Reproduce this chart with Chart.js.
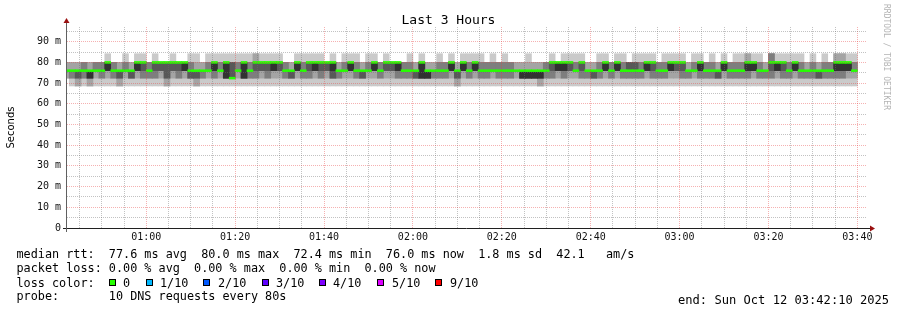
<!DOCTYPE html>
<html>
<head>
<meta charset="utf-8">
<script src="https://cdn.jsdelivr.net/npm/chart.js@4.4.1/dist/chart.umd.min.js"></script>
<style>
  body { margin: 0; background: #fff; }
  #wrap { position: relative; width: 897px; height: 310px; font-family: 'DejaVu Sans Mono', monospace; color: #000; }
  #wrap canvas { position: absolute; left: 0; top: 0; }
  .txt { position: absolute; white-space: pre; font-size: 11.8px; line-height: 14px; }
  .box { position: absolute; width: 5px; height: 5px; border: 1px solid #000; }
  #title { position: absolute; left: 0; top: 12px; width: 897px; text-align: center; font-size: 13px; line-height: 15px; }
  #mark { position: absolute; left: 882px; top: 4px; writing-mode: vertical-rl; font-size: 8px; line-height: 8px; color: #b4b4b4; white-space: pre; }
</style>
</head>
<body>
<div id="wrap">
  <canvas id="chart" width="897" height="310"></canvas>
  <div id="title">Last 3 Hours</div>
  <div id="mark">RRDTOOL / TOBI OETIKER</div>
  <div class="txt" style="left:16.5px; top:247px">median rtt:  77.6 ms avg  80.0 ms max  72.4 ms min  76.0 ms now  1.8 ms sd  42.1   am/s</div>
  <div class="txt" style="left:16.5px; top:261px">packet loss: 0.00 % avg  0.00 % max  0.00 % min  0.00 % now</div>
  <div class="txt" style="left:16.5px; top:275.5px">loss color:</div>
  <div id="lossLegend"></div>
  <div class="txt" style="left:16.5px; top:289px">probe:       10 DNS requests every 80s</div>
  <div class="txt" style="left:678px; top:292.5px; font-size:12.1px">end: Sun Oct 12 03:42:10 2025</div>
</div>
<script>
// --- data ---
// 10 pings per 80 s step, each ping given as a level index into levelMs
const levelMs = [68.6, 72.4, 76.0, 80.0, 84.2];
const stepSeconds = 80;
const firstStepEnd = '00:42:40';
const timeRange = ['00:42:10', '03:42:10'];
const pingLevels = [
  '1122222233', '0112222233', '0011222233', '0112222333', '0011122233', '0122222333', '0112222333',
  '0122233334', '0112222333', '0011222233', '0122222334', '0111222233', '0122233334', '0112333334',
  '0112222333', '0112333334', '0122333333', '0011333333', '0122333334', '0112333333', '0122233333',
  '0111222334', '0011222234', '0112222233', '0122222334', '0112233334', '0122222334', '0111133334',
  '0111113334', '0122222334', '0111133334', '0112222334', '0112333344', '0122333334', '0112333334',
  '0122233334', '0122333334', '0112222333', '0111222233', '0122233334', '0112222334', '0112333334',
  '0122233334', '0112333334', '0122333333', '0111233334', '0112222233', '0122222334', '0122233334',
  '0112222334', '0111222233', '0122222334', '0122233334', '0112222333', '0122333334', '0122333333',
  '0112233333', '0112222333', '0112222334', '0111222233', '0111133334', '0111122233', '0112222233',
  '0112222334', '0112222333', '0122233334', '0011222233', '0122233334', '0112222334', '0122233334',
  '0112222334', '0112222333', '0122222334', '0112222333', '0112222334', '0112222333', '0122222233',
  '0111122233', '0111122234', '0111122233', '0011122233', '0112222333', '0112333334', '0122233333',
  '0112233334', '0122333334', '0122222334', '0112333334', '0112222233', '0111222233', '0112222334',
  '0122233334', '0112222333', '0122233334', '0112222334', '0112223333', '0112223334', '0112222334',
  '0122233334', '0112333334', '0112222333', '0112222334', '0122233334', '0122333334', '0112333334',
  '0112222233', '0122222334', '0112233334', '0112222333', '0112222334', '0111222233', '0122233334',
  '0112222333', '0112222334', '0112222334', '0112233344', '0122233334', '0112222334', '0112222233',
  '0112333444', '0122233334', '0112333334', '0112222334', '0122233334', '0112222334', '0112222233',
  '0112222334', '0111222233', '0112222334', '0112222333', '0112233344', '0112233344', '0122233334',
  '0122222334'
];
const lossLabels = ['0', '1/10', '2/10', '3/10', '4/10', '5/10', '9/10'];
const lossColors = ['#26ff00', '#00b8ff', '#0059ff', '#5e00ff', '#7e00ff', '#dd00ff', '#ff0000'];

// --- styling ---
const smokeGreys = ['#cacaca', '#a4a4a4', '#7e7e7e', '#585858', '#323232'];
const yMax = 97.1;
const medianHalf = 0.45;
const minorGrid = 'rgba(110,110,110,0.42)';
const majorGrid = 'rgba(232,70,70,0.42)';
const legendBoxX = [109, 146, 203, 262, 319, 377, 435];
const legendTextX = [123, 160, 218, 276, 333, 392, 450];

const toSec = s => s.split(':').reduce((a, v) => a * 60 + Number(v), 0);
const hhmm = v => String(Math.floor(v / 3600)).padStart(2, '0') + ':' + String(Math.floor(v % 3600 / 60)).padStart(2, '0');

// loss colour legend
const lossLegend = document.getElementById('lossLegend');
lossLabels.forEach((lab, i) => {
  const b = document.createElement('div');
  b.className = 'box';
  b.style.left = legendBoxX[i] + 'px';
  b.style.top = '279px';
  b.style.background = lossColors[i];
  lossLegend.appendChild(b);
  const t = document.createElement('div');
  t.className = 'txt';
  t.style.left = legendTextX[i] + 'px';
  t.style.top = '275.5px';
  t.textContent = lab;
  lossLegend.appendChild(t);
});

// sorted pings per step, step centre times
const t0 = toSec(firstStepEnd);
const pings = pingLevels.map(s => s.split('').map(d => levelMs[+d]).sort((a, b) => a - b));
const centres = pings.map((_, i) => t0 + i * stepSeconds - stepSeconds / 2);
const medians = pings.map(p => p[5]);

const smokeSets = smokeGreys.map((col, k) => ({
  type: 'bar',
  order: 5 - k + 1,
  backgroundColor: col,
  grouped: false,
  barPercentage: 1,
  categoryPercentage: 1,
  data: pings.map((p, i) => ({ x: centres[i], y: [p[k], p[9 - k]] })).filter(d => d.y[0] < d.y[1])
}));

const medianSet = {
  type: 'bar',
  order: 0,
  backgroundColor: lossColors[0],
  grouped: false,
  barPercentage: 1,
  categoryPercentage: 1,
  data: medians.map((m, i) => ({ x: centres[i], y: [m - medianHalf, m + medianHalf] }))
};

// rrdtool style axis lines + arrows
const axisArrows = {
  id: 'axisArrows',
  afterDraw(chart) {
    const { ctx, chartArea: a } = chart;
    const yb = Math.round(a.bottom) + 0.5;
    const xl = Math.round(a.left) - 0.5;
    ctx.save();
    ctx.lineWidth = 1;
    ctx.strokeStyle = '#202020';
    ctx.beginPath();
    ctx.moveTo(a.left - 4, yb); ctx.lineTo(a.right + 3, yb);
    ctx.stroke();
    ctx.strokeStyle = '#606060';
    ctx.beginPath();
    ctx.moveTo(xl, a.bottom + 4); ctx.lineTo(xl, a.top - 4);
    ctx.stroke();
    ctx.fillStyle = '#9a1010';
    ctx.beginPath();
    ctx.moveTo(a.right + 8, yb); ctx.lineTo(a.right + 3, yb - 3); ctx.lineTo(a.right + 3, yb + 3);
    ctx.closePath(); ctx.fill();
    ctx.beginPath();
    ctx.moveTo(xl, a.top - 9); ctx.lineTo(xl - 3, a.top - 4); ctx.lineTo(xl + 3, a.top - 4);
    ctx.closePath(); ctx.fill();
    ctx.restore();
  }
};

const monoTick = { family: 'DejaVu Sans Mono', size: 10 };

new Chart(document.getElementById('chart'), {
  data: { datasets: [medianSet, ...smokeSets] },
  options: {
    responsive: false,
    animation: false,
    events: [],
    layout: { padding: { top: 27, right: 30, left: 0, bottom: 0 } },
    plugins: { legend: { display: false }, tooltip: { enabled: false }, title: { display: false } },
    scales: {
      x: {
        type: 'linear',
        offset: false,
        min: toSec(timeRange[0]),
        max: toSec(timeRange[1]),
        afterFit(s) { s.height = 82; },
        afterBuildTicks(s) {
          const t = [];
          for (let v = Math.ceil(s.min / 300) * 300; v <= s.max; v += 300) t.push({ value: v });
          s.ticks = t;
        },
        ticks: {
          autoSkip: false, maxRotation: 0, padding: 3, color: '#111', font: monoTick,
          callback: v => (v % 1200 === 0 ? hhmm(v) : '')
        },
        grid: {
          z: 1, offset: false, drawTicks: false, lineWidth: 1,
          color: c => (c.tick && c.tick.value % 1200 === 0 ? majorGrid : minorGrid)
        },
        border: { display: false, dash: [1, 1] }
      },
      y: {
        type: 'linear',
        min: 0,
        max: yMax,
        afterFit(s) { s.width = 67; },
        afterBuildTicks(s) {
          const t = [];
          for (let v = 0; v <= 95; v += 5) t.push({ value: v });
          s.ticks = t;
        },
        ticks: {
          autoSkip: false, padding: 6, color: '#111', font: monoTick,
          callback: v => (v % 10 !== 0 ? '' : v === 0 ? '0' : v + ' m')
        },
        grid: {
          z: 1, drawTicks: false, lineWidth: 1,
          color: c => (!c.tick || c.tick.value === 0 ? 'rgba(0,0,0,0)' : c.tick.value % 10 === 0 ? majorGrid : minorGrid)
        },
        border: { display: false, dash: [1, 1] },
        title: {
          display: true, text: 'Seconds', color: '#000',
          font: { family: 'DejaVu Sans', size: 10 }, padding: { top: 5, bottom: 0 }
        }
      }
    }
  },
  plugins: [axisArrows]
});
</script>
</body>
</html>
